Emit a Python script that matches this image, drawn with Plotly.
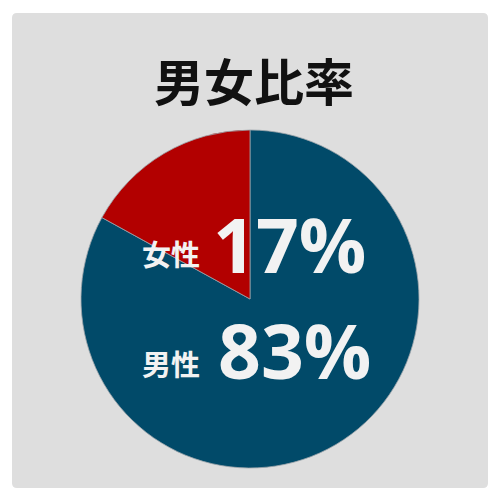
import plotly.graph_objects as go

labels = ["男性", "女性"]
values = [83, 17]
colors = ["#014a69", "#b20000"]
pct_text = ["83%", "17%"]

# the page body adds an 8px margin, so the figure is 492px and
# positions below are given in picture pixels, shifted by that margin
OFF = 8
W = 500 - OFF


def px_(x):
    return (x - OFF) / W


def py_(y):
    return 1 - (y - OFF) / W


fig = go.Figure(go.Pie(
    labels=labels, values=values, sort=False, direction="clockwise", rotation=0,
    marker=dict(colors=colors, line=dict(color="#9aa3aa", width=0.8)),
    textinfo="none", hoverinfo="label+percent", showlegend=False,
    domain=dict(x=[px_(80), px_(420)], y=[py_(468), py_(130)]),
))

# rounded gray panel
x0, y0, x1, y1, r = 12, 13, 488, 488, 5
path = (f"M {px_(x0 + r)} {py_(y0)} L {px_(x1 - r)} {py_(y0)} "
        f"Q {px_(x1)} {py_(y0)} {px_(x1)} {py_(y0 + r)} L {px_(x1)} {py_(y1 - r)} "
        f"Q {px_(x1)} {py_(y1)} {px_(x1 - r)} {py_(y1)} L {px_(x0 + r)} {py_(y1)} "
        f"Q {px_(x0)} {py_(y1)} {px_(x0)} {py_(y1 - r)} L {px_(x0)} {py_(y0 + r)} "
        f"Q {px_(x0)} {py_(y0)} {px_(x0 + r)} {py_(y0)} Z")
fig.add_shape(type="path", path=path, xref="paper", yref="paper",
              fillcolor="#dedede", line=dict(width=0), layer="below")

fig.add_annotation(text="<b>男女比率</b>", x=0.5, y=py_(79), xref="paper", yref="paper",
                   xanchor="center", yanchor="middle", showarrow=False,
                   font=dict(family="Noto Sans CJK JP", size=50, color="#111111"))

num_font = dict(family="Open Sans", size=75, color="#f2f2f2")
lab_font = dict(family="Noto Sans CJK JP", size=29, color="#f2f2f2")
# female row
fig.add_annotation(text="<b>" + labels[1] + "</b>", x=px_(202), y=py_(253), xref="paper", yref="paper",
                   xanchor="right", yanchor="middle", showarrow=False, font=lab_font)
fig.add_annotation(text="<b>" + pct_text[1] + "</b>", x=px_(211), y=py_(244), xref="paper", yref="paper",
                   xanchor="left", yanchor="middle", showarrow=False, font=num_font)
# male row
fig.add_annotation(text="<b>" + labels[0] + "</b>", x=px_(202), y=py_(363), xref="paper", yref="paper",
                   xanchor="right", yanchor="middle", showarrow=False, font=lab_font)
fig.add_annotation(text="<b>" + pct_text[0] + "</b>", x=px_(216), y=py_(350), xref="paper", yref="paper",
                   xanchor="left", yanchor="middle", showarrow=False, font=num_font)

fig.update_layout(width=W, height=W, margin=dict(l=0, r=0, t=0, b=0),
                  paper_bgcolor="white", plot_bgcolor="white")
fig.write_html("out.html")
